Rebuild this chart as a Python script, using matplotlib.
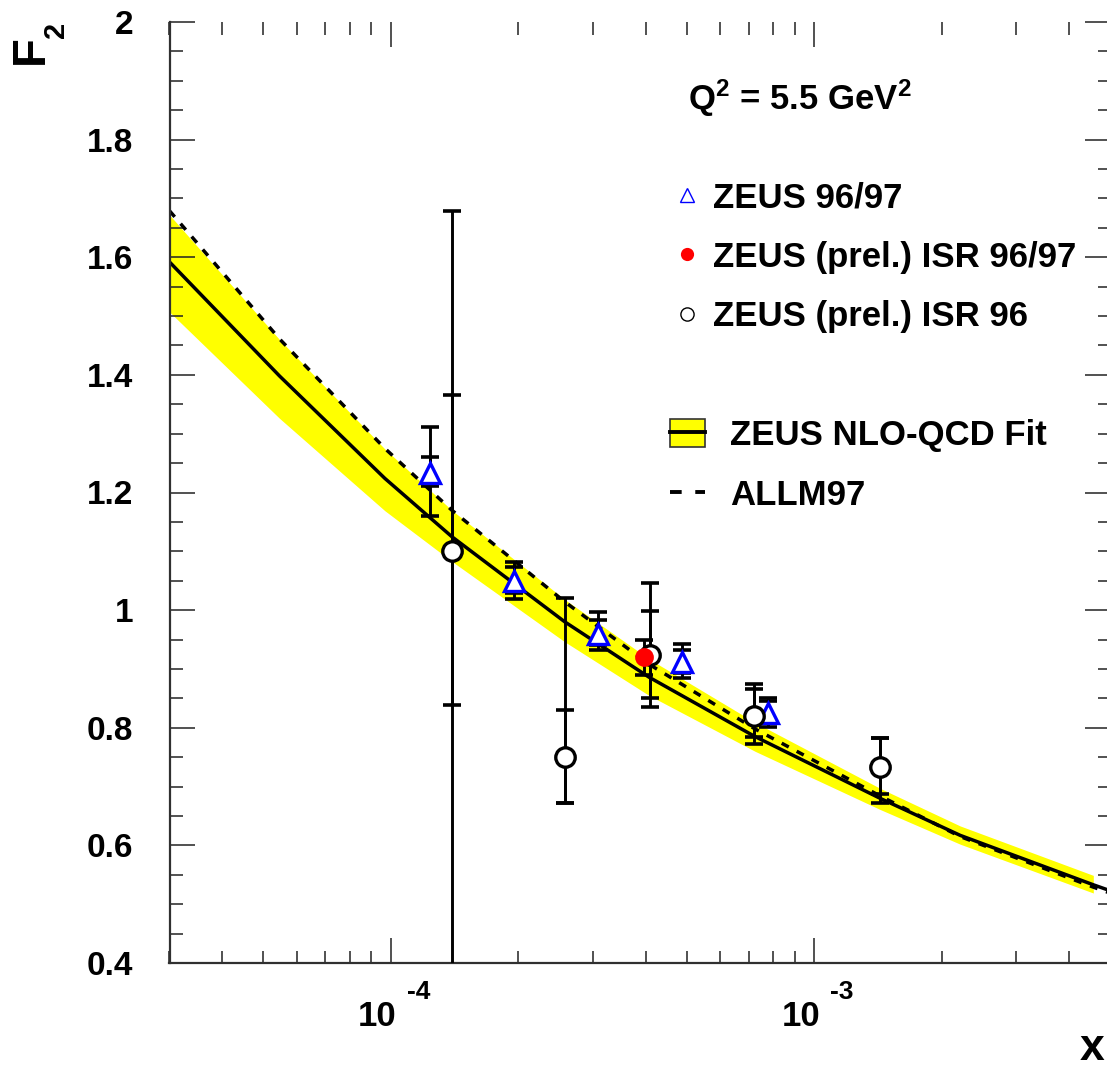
import numpy as np
import matplotlib
matplotlib.use("Agg")
import matplotlib.pyplot as plt
import matplotlib.transforms as mtransforms
from matplotlib.lines import Line2D
from matplotlib.patches import Patch
from matplotlib.ticker import MultipleLocator, LogLocator, NullFormatter, FixedLocator

plt.rcParams['font.family'] = 'Liberation Sans'
plt.rcParams['font.weight'] = 'bold'
plt.rcParams['mathtext.fontset'] = 'custom'
plt.rcParams['mathtext.rm'] = 'Liberation Sans:bold'
plt.rcParams['mathtext.bf'] = 'Liberation Sans:bold'
plt.rcParams['mathtext.it'] = 'Liberation Sans:bold'
plt.rcParams['mathtext.default'] = 'bf'

# ZEUS 96/97 (open blue triangles)
x_z9697 = [1.236e-4, 1.953e-4, 3.08e-4, 4.88e-4, 7.78e-4]
f2_z9697 = [1.233, 1.049, 0.960, 0.912, 0.825]
stat_lo_z9697 = [0.022, 0.020, 0.020, 0.019, 0.015]
stat_hi_z9697 = [0.028, 0.025, 0.024, 0.020, 0.020]
tot_lo_z9697 = [0.073, 0.030, 0.028, 0.027, 0.024]
tot_hi_z9697 = [0.078, 0.033, 0.036, 0.031, 0.026]

# ZEUS (prel.) ISR 96/97 (red dot)
x_isr9697 = [3.97e-4]
f2_isr9697 = [0.920]
err_lo_isr9697 = [0.031]
err_hi_isr9697 = [0.030]

# ZEUS (prel.) ISR 96 (open circles)
x_isr96 = [1.396e-4, 2.577e-4, 4.09e-4, 7.21e-4, 1.432e-3]
f2_isr96 = [1.101, 0.750, 0.924, 0.820, 0.734]
stat_lo_isr96 = [0.262, 0.078, 0.074, 0.036, 0.047]
stat_hi_isr96 = [0.265, 0.080, 0.074, 0.046, 0.048]
tot_lo_isr96 = [0.750, 0.078, 0.089, 0.048, 0.062]
tot_hi_isr96 = [0.578, 0.271, 0.122, 0.054, 0.049]

# curves: ZEUS NLO-QCD fit (central + band) and ALLM97
x_curve = [3.0e-5, 5.46e-5, 9.68e-5, 1.393e-4, 2.577e-4, 4.073e-4, 7.25e-4, 1.432e-3, 2.214e-3, 4.566e-3, 5.0e-3]
fit_central = [1.592, 1.398, 1.224, 1.125, 0.980, 0.886, 0.785, 0.680, 0.617, 0.533, 0.523]
allm97 = [1.679, 1.461, 1.275, 1.170, 1.014, 0.908, 0.798, 0.684, 0.615, 0.529, 0.519]
x_band = [3.0e-5, 5.46e-5, 9.68e-5, 1.393e-4, 2.577e-4, 4.073e-4, 7.25e-4, 1.432e-3, 2.214e-3, 4.566e-3]
band_hi = [1.672, 1.460, 1.274, 1.170, 1.018, 0.917, 0.809, 0.697, 0.633, 0.549]
band_lo = [1.507, 1.326, 1.169, 1.083, 0.946, 0.855, 0.760, 0.661, 0.602, 0.519]

y_ticks = [0.4, 0.6, 0.8, 1.0, 1.2, 1.4, 1.6, 1.8, 2.0]
y_labels = ['0.4', '0.6', '0.8', '1', '1.2', '1.4', '1.6', '1.8', '2']
x_major = [1e-4, 1e-3]
x_exp = ['-4', '-3']

W, H = 1107, 1070
fig = plt.figure(figsize=(W / 100, H / 100), dpi=100)
ax = fig.add_axes([169.5 / W, 1 - 963 / H, (1110 - 169.5) / W, (963 - 22) / H])

ax.fill_between(x_band, band_lo, band_hi, color='#ffff00', lw=0, zorder=1)
ax.plot(x_curve, fit_central, color='k', lw=2.5, zorder=2)
ax.plot(x_curve, allm97, color='k', lw=2.5, ls=(0, (2.3, 2.6)), zorder=2)

eb = dict(fmt='none', ecolor='k', elinewidth=2.1, capsize=6.5, capthick=2.6, zorder=3)
ax.errorbar(x_z9697, f2_z9697, yerr=[tot_lo_z9697, tot_hi_z9697], **eb)
ax.errorbar(x_z9697, f2_z9697, yerr=[stat_lo_z9697, stat_hi_z9697], **eb)
ax.errorbar(x_isr96, f2_isr96, yerr=[tot_lo_isr96, tot_hi_isr96], **eb)
ax.errorbar(x_isr96, f2_isr96, yerr=[stat_lo_isr96, stat_hi_isr96], **eb)
ax.errorbar(x_isr9697, f2_isr9697, yerr=[err_lo_isr9697, err_hi_isr9697], **eb)

ax.plot(x_z9697, f2_z9697, ls='none', marker='^', ms=15, mfc='white', mec='#0000ff', mew=2.4, zorder=4)
ax.plot(x_isr96, f2_isr96, ls='none', marker='o', ms=14, mfc='white', mec='k', mew=2.4, zorder=4)
ax.plot(x_isr9697, f2_isr9697, ls='none', marker='o', ms=13.5, mfc='#ff0000', mec='#ff0000', mew=0, zorder=5)

ax.set_xscale('log')
ax.set_xlim(3e-5, 5e-3)
ax.set_ylim(0.4, 2.0)

ax.yaxis.set_major_locator(FixedLocator(y_ticks))
ax.set_yticklabels(y_labels, fontsize=24, fontweight='bold')
ax.yaxis.set_minor_locator(MultipleLocator(0.05))
ax.xaxis.set_major_locator(FixedLocator(x_major))
ax.xaxis.set_minor_locator(LogLocator(base=10, subs=np.arange(2, 10)))
ax.xaxis.set_major_formatter(NullFormatter())
ax.xaxis.set_minor_formatter(NullFormatter())

ax.tick_params(which='both', direction='in', top=True, right=True, color='#222222', width=1.1)
ax.tick_params(which='major', length=18)
ax.tick_params(which='minor', length=9)
ax.tick_params(axis='y', which='major', pad=26)
for s in ['top', 'right']:
    ax.spines[s].set_visible(False)
for s in ['left', 'bottom']:
    ax.spines[s].set_linewidth(1.6)
    ax.spines[s].set_color('#303030')

# x tick labels in ROOT style: "10" with raised exponent
trans = ax.get_xaxis_transform()
for xv, ex in zip(x_major, x_exp):
    t1 = mtransforms.offset_copy(trans, fig=fig, x=6, y=0, units='dots')
    ax.text(xv, (963 - 1026) / 941, '10', transform=t1, ha='right', va='baseline', fontsize=25, fontweight='bold')
    t2 = mtransforms.offset_copy(trans, fig=fig, x=16, y=0, units='dots')
    ax.text(xv, (963 - 999) / 941, ex, transform=t2, ha='left', va='baseline', fontsize=19, fontweight='bold')

fig.text(31 / W, 1 - 50 / H, 'F', rotation=90, ha='center', va='center', fontsize=34, fontweight='bold')
fig.text(56 / W, 1 - 30 / H, '2', rotation=90, ha='center', va='center', fontsize=21, fontweight='bold')
fig.text(1104 / W, 1 - 1069 / H, 'x', ha='right', va='bottom', fontsize=32, fontweight='bold')

fig.text(688 / W, 1 - 110 / H, r'$Q^{2}$ = 5.5 GeV$^{2}$', ha='left', va='baseline', fontsize=25, fontweight='bold')

h1 = [Line2D([], [], ls='none', marker='^', ms=10, mfc='none', mec='#0000ff', mew=1.0),
      Line2D([], [], ls='none', marker='o', ms=9.5, mfc='#ff0000', mec='#ff0000', mew=0),
      Line2D([], [], ls='none', marker='o', ms=9.5, mfc='white', mec='k', mew=1.0)]
l1 = ['ZEUS 96/97', 'ZEUS (prel.) ISR 96/97', 'ZEUS (prel.) ISR 96']
leg1 = ax.legend(h1, l1, loc='center left', bbox_to_anchor=((669.6 - 169.5) / 940.5, (963 - 257) / 941),
                 frameon=False, handlelength=1.0, handletextpad=0.25, labelspacing=0.76,
                 borderpad=0, borderaxespad=0, prop={'weight': 'bold', 'size': 25})
ax.add_artist(leg1)

h2 = [(Patch(facecolor='#ffff00', edgecolor='#333333', lw=1.2), Line2D([], [], color='k', lw=2.8)),
      Line2D([], [], color='k', lw=2.8, ls=(0, (3.0, 3.5)))]
l2 = ['ZEUS NLO-QCD Fit', 'ALLM97']
ax.legend(h2, l2, loc='center left', bbox_to_anchor=((670 - 169.5) / 940.5, (963 - 465.5) / 941),
          frameon=False, handlelength=1.0, handleheight=0.87, handletextpad=0.72, labelspacing=0.76,
          borderpad=0, borderaxespad=0, prop={'weight': 'bold', 'size': 25})

fig.savefig('out.png', dpi=100)
